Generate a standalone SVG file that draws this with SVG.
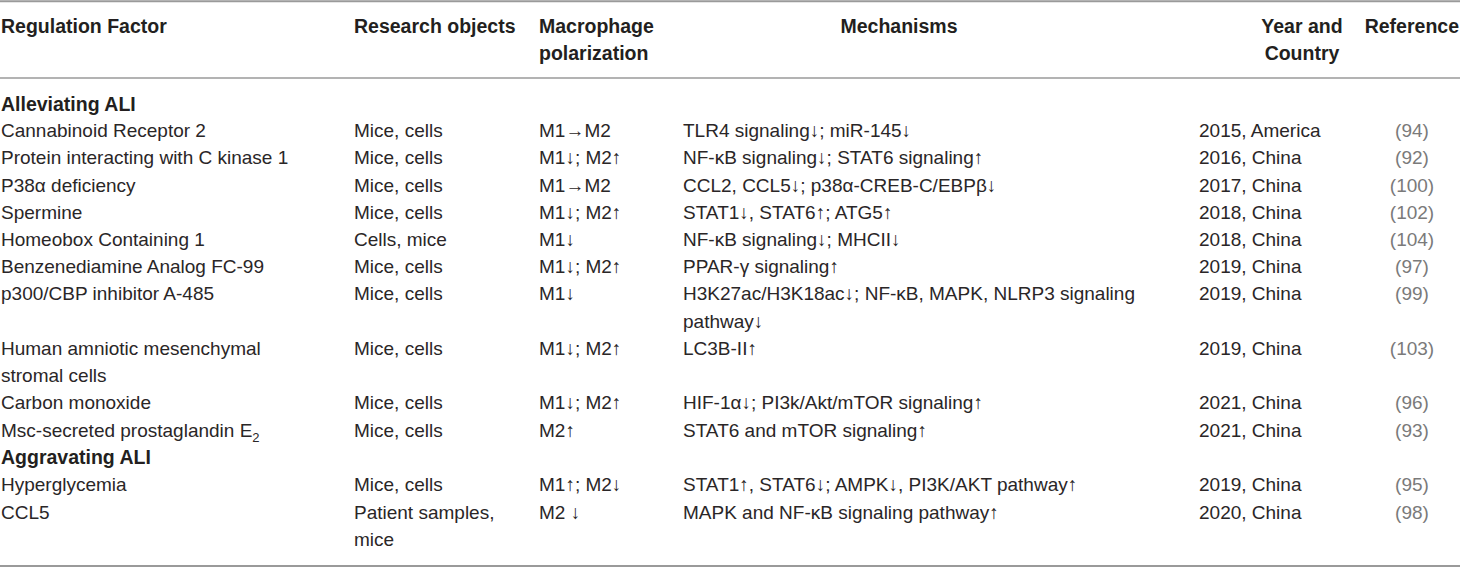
<svg xmlns="http://www.w3.org/2000/svg" width="1460" height="568" viewBox="0 0 1460 568">
<style>
text{font-family:"Liberation Sans",Arial,sans-serif;font-size:19px;fill:#2a2627}
.h{font-weight:bold;font-size:19.5px;fill:#231f20}
.c{text-anchor:middle}
.r{fill:#7a7a7a;text-anchor:middle}
.rule{stroke:#9a9a9a;fill:none}
</style>
<rect width="1460" height="568" fill="#fff"/>
<g id="rules">
<line class="rule" x1="0" y1="1.2" x2="1460" y2="1.2" stroke-width="2"/>
<line class="rule" x1="0" y1="78" x2="1460" y2="78" stroke-width="1.6"/>
<line class="rule" x1="0" y1="566" x2="1460" y2="566" stroke-width="2"/>
</g>
<g id="header">
<text class="h" x="1" y="33">Regulation Factor</text>
<text class="h" x="354" y="33">Research objects</text>
<text class="h" x="539" y="33">Macrophage</text>
<text class="h" x="539" y="60">polarization</text>
<text class="h c" x="899" y="33">Mechanisms</text>
<text class="h c" x="1302" y="33">Year and</text>
<text class="h c" x="1302" y="60">Country</text>
<text class="h" x="1459" y="33" text-anchor="end">Reference</text>
</g>
<g id="alleviating">
<text class="h" x="1" y="111">Alleviating ALI</text>
<g id="r1"><text x="1" y="137">Cannabinoid Receptor 2</text><text x="354" y="137">Mice, cells</text><text x="539" y="137">M1→M2</text><text x="683" y="137">TLR4 signaling↓; miR-145↓</text><text x="1199" y="137">2015, America</text><text class="r" x="1412" y="137">(94)</text></g>
<g id="r2"><text x="1" y="164">Protein interacting with C kinase 1</text><text x="354" y="164">Mice, cells</text><text x="539" y="164">M1↓; M2↑</text><text x="683" y="164">NF-κB signaling↓; STAT6 signaling↑</text><text x="1199" y="164">2016, China</text><text class="r" x="1412" y="164">(92)</text></g>
<g id="r3"><text x="1" y="192">P38α deficiency</text><text x="354" y="192">Mice, cells</text><text x="539" y="192">M1→M2</text><text x="683" y="192">CCL2, CCL5↓; p38α-CREB-C/EBPβ↓</text><text x="1199" y="192">2017, China</text><text class="r" x="1412" y="192">(100)</text></g>
<g id="r4"><text x="1" y="219">Spermine</text><text x="354" y="219">Mice, cells</text><text x="539" y="219">M1↓; M2↑</text><text x="683" y="219">STAT1↓, STAT6↑; ATG5↑</text><text x="1199" y="219">2018, China</text><text class="r" x="1412" y="219">(102)</text></g>
<g id="r5"><text x="1" y="246">Homeobox Containing 1</text><text x="354" y="246">Cells, mice</text><text x="539" y="246">M1↓</text><text x="683" y="246">NF-κB signaling↓; MHCII↓</text><text x="1199" y="246">2018, China</text><text class="r" x="1412" y="246">(104)</text></g>
<g id="r6"><text x="1" y="273">Benzenediamine Analog FC-99</text><text x="354" y="273">Mice, cells</text><text x="539" y="273">M1↓; M2↑</text><text x="683" y="273">PPAR-γ signaling↑</text><text x="1199" y="273">2019, China</text><text class="r" x="1412" y="273">(97)</text></g>
<g id="r7"><text x="1" y="300">p300/CBP inhibitor A-485</text><text x="354" y="300">Mice, cells</text><text x="539" y="300">M1↓</text><text x="683" y="300">H3K27ac/H3K18ac↓; NF-κB, MAPK, NLRP3 signaling</text><text x="683" y="328">pathway↓</text><text x="1199" y="300">2019, China</text><text class="r" x="1412" y="300">(99)</text></g>
<g id="r8"><text x="1" y="355">Human amniotic mesenchymal</text><text x="1" y="382">stromal cells</text><text x="354" y="355">Mice, cells</text><text x="539" y="355">M1↓; M2↑</text><text x="683" y="355">LC3B-II↑</text><text x="1199" y="355">2019, China</text><text class="r" x="1412" y="355">(103)</text></g>
<g id="r9"><text x="1" y="409">Carbon monoxide</text><text x="354" y="409">Mice, cells</text><text x="539" y="409">M1↓; M2↑</text><text x="683" y="409">HIF-1α↓; PI3k/Akt/mTOR signaling↑</text><text x="1199" y="409">2021, China</text><text class="r" x="1412" y="409">(96)</text></g>
<g id="r10"><text x="1" y="437">Msc-secreted prostaglandin E<tspan font-size="13" dy="5">2</tspan></text><text x="354" y="437">Mice, cells</text><text x="539" y="437">M2↑</text><text x="683" y="437">STAT6 and mTOR signaling↑</text><text x="1199" y="437">2021, China</text><text class="r" x="1412" y="437">(93)</text></g>
</g>
<g id="aggravating">
<text class="h" x="1" y="464">Aggravating ALI</text>
<g id="r11"><text x="1" y="491">Hyperglycemia</text><text x="354" y="491">Mice, cells</text><text x="539" y="491">M1↑; M2↓</text><text x="683" y="491">STAT1↑, STAT6↓; AMPK↓, PI3K/AKT pathway↑</text><text x="1199" y="491">2019, China</text><text class="r" x="1412" y="491">(95)</text></g>
<g id="r12"><text x="1" y="519">CCL5</text><text x="354" y="519">Patient samples,</text><text x="354" y="546">mice</text><text x="539" y="519">M2 ↓</text><text x="683" y="519">MAPK and NF-κB signaling pathway↑</text><text x="1199" y="519">2020, China</text><text class="r" x="1412" y="519">(98)</text></g>
</g>
</svg>
